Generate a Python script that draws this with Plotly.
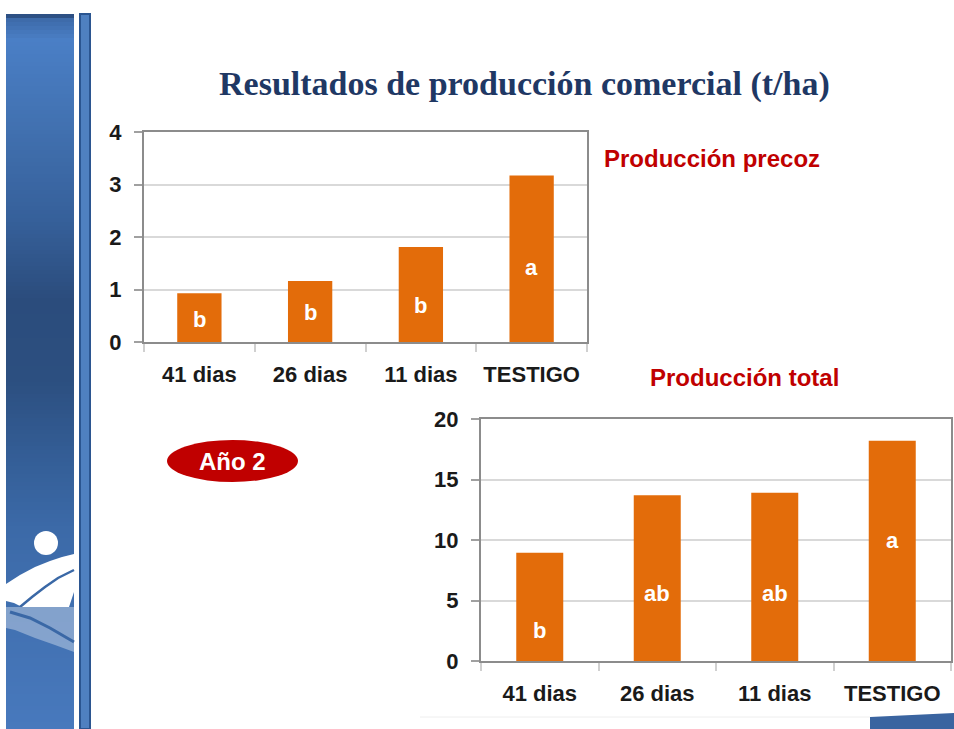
import plotly.graph_objects as go

categories = ["41 dias", "26 dias", "11 dias", "TESTIGO"]
precoz = [0.93, 1.16, 1.81, 3.17]
total = [8.95, 13.7, 13.9, 18.2]
precoz_letters = ["b", "b", "b", "a"]
total_letters = ["b", "ab", "ab", "a"]
precoz_letter_y = [0.42, 0.57, 0.70, 1.41]
total_letter_y = [2.5, 5.6, 5.6, 10.0]

W, H = 954, 729
ORANGE = "#E36C0A"
RED = "#C00000"
NAVY = "#1F3864"
SANS = "Liberation Sans, Arial, sans-serif"
SERIF = "Liberation Serif, Times New Roman, serif"


def px(x):
    return x / W


def py(y):
    return 1 - y / H


def path(points, close=True):
    d = "M " + " L ".join(f"{px(x):.5f},{py(y):.5f}" for x, y in points)
    return d + (" Z" if close else "")


def hex_mix(c1, c2, t):
    a = [int(c1[i:i + 2], 16) for i in (1, 3, 5)]
    b = [int(c2[i:i + 2], 16) for i in (1, 3, 5)]
    return "#" + "".join(f"{round(a[k] + (b[k] - a[k]) * t):02x}" for k in range(3))


def band_color(y, stops):
    for (y0, c0), (y1, c1) in zip(stops, stops[1:]):
        if y0 <= y <= y1:
            return hex_mix(c0, c1, (y - y0) / (y1 - y0))
    return stops[-1][1]


fig = go.Figure()

fig.add_trace(go.Bar(x=categories, y=precoz, xaxis="x", yaxis="y",
                     marker=dict(color=ORANGE, line=dict(width=0)),
                     width=0.4, hoverinfo="x+y"))
fig.add_trace(go.Bar(x=categories, y=total, xaxis="x2", yaxis="y2",
                     marker=dict(color=ORANGE, line=dict(width=0)),
                     width=0.4, hoverinfo="x+y"))

tick_font = dict(family=SANS, size=22, color="#1a1a1a", weight="bold")
x_common = dict(showline=True, mirror=True, linecolor="#8c8c8c", linewidth=2,
                ticks="outside", tickson="boundaries", tickcolor="#d0d0d0",
                ticklen=8, tickwidth=1.5, tickfont=tick_font,
                ticklabelstandoff=12, showgrid=False, fixedrange=True,
                automargin=False, range=[-0.5, 3.5])
y_common = dict(showline=True, mirror=True, linecolor="#8c8c8c", linewidth=2,
                ticks="outside", tickcolor="#a0a0a0", ticklen=8, tickwidth=1.5,
                tickfont=tick_font, ticklabelstandoff=8,
                showgrid=True, gridcolor="#d9d9d9", gridwidth=1.5,
                zeroline=False, fixedrange=True, automargin=False)

fig.update_layout(
    width=W, height=H, margin=dict(l=0, r=0, t=0, b=0, pad=0),
    paper_bgcolor="white", plot_bgcolor="white", showlegend=False,
    bargap=0.6,
    xaxis=dict(x_common, domain=[px(144), px(587)], anchor="y"),
    yaxis=dict(y_common, domain=[py(342), py(132)], anchor="x",
               range=[0, 4], dtick=1),
    xaxis2=dict(x_common, domain=[px(481), px(951)], anchor="y2"),
    yaxis2=dict(y_common, domain=[py(661), py(419)], anchor="x2",
                range=[0, 20], dtick=5),
)

# significance letters
for cat, letter, ly in zip(categories, precoz_letters, precoz_letter_y):
    fig.add_annotation(x=cat, y=ly, xref="x", yref="y", text=letter,
                       showarrow=False, xanchor="center",
                       font=dict(family=SANS, size=22, color="white",
                                 weight="bold"))
for cat, letter, ly in zip(categories, total_letters, total_letter_y):
    fig.add_annotation(x=cat, y=ly, xref="x2", yref="y2", text=letter,
                       showarrow=False, xanchor="center",
                       font=dict(family=SANS, size=22, color="white",
                                 weight="bold"))

# titles
fig.add_annotation(text="Resultados de producción comercial (t/ha)",
                   x=px(524), y=py(84), xref="paper", yref="paper",
                   showarrow=False, xanchor="center", yanchor="middle",
                   font=dict(family=SERIF, size=34, color=NAVY, weight="bold"))
fig.add_annotation(text="Producción precoz", x=px(602), y=py(158),
                   xref="paper", yref="paper", showarrow=False,
                   xanchor="left", yanchor="middle",
                   font=dict(family=SANS, size=24, color=RED, weight="bold"))
fig.add_annotation(text="Producción total", x=px(648), y=py(377),
                   xref="paper", yref="paper", showarrow=False,
                   xanchor="left", yanchor="middle",
                   font=dict(family=SANS, size=24, color=RED, weight="bold"))

# "Año 2" badge
fig.add_shape(type="circle", xref="paper", yref="paper",
              x0=px(167), x1=px(298), y0=py(482), y1=py(440),
              fillcolor=RED, line=dict(width=0), layer="above")
fig.add_annotation(text="Año 2", x=px(232), y=py(461), xref="paper",
                   yref="paper", showarrow=False, xanchor="center",
                   yanchor="middle",
                   font=dict(family=SANS, size=24, color="white",
                             weight="bold"))

# left decorative band
stops = [(14, "#0e1f40"), (17, "#3c68a6"), (40, "#4a7fc6"), (120, "#4272b2"),
         (220, "#36609a"), (300, "#2b4c7c"), (380, "#2c4f80"),
         (470, "#35609a"), (530, "#3c6aa8"), (729, "#4879bd")]
step = 4
for y0 in range(14, H, step):
    fig.add_shape(type="rect", xref="paper", yref="paper",
                  x0=px(6), x1=px(74), y0=py(min(y0 + step + 1, H)), y1=py(y0),
                  fillcolor=band_color(y0 + step / 2, stops),
                  line=dict(width=0), layer="below")
fig.add_shape(type="rect", xref="paper", yref="paper",
              x0=px(80), x1=px(90), y0=py(H), y1=py(14),
              fillcolor="#4f80c0", line=dict(color="#2b5590", width=2),
              layer="below")

# logo: head, swoosh and reflection
fig.add_shape(type="circle", xref="paper", yref="paper",
              x0=px(34), x1=px(58), y0=py(555), y1=py(531),
              fillcolor="white", line=dict(width=0), layer="below")
fig.add_shape(type="path", xref="paper", yref="paper",
              path=path([(6, 584), (20, 575), (35, 567), (50, 561), (62, 557),
                         (74, 554), (74, 592), (69, 607), (22, 607),
                         (14, 603), (6, 601)]),
              fillcolor="white", line=dict(width=0), layer="below")
fig.add_shape(type="path", xref="paper", yref="paper",
              path=path([(20, 607), (32, 597), (45, 587), (58, 578),
                         (74, 570)], close=False),
              line=dict(color="#3a68a6", width=2.5), layer="below")
fig.add_shape(type="path", xref="paper", yref="paper",
              path=path([(6, 607), (74, 607), (74, 652), (55, 645),
                         (35, 638), (15, 630), (6, 628)]),
              fillcolor="rgba(255,255,255,0.35)", line=dict(width=0),
              layer="below")
fig.add_shape(type="path", xref="paper", yref="paper",
              path=path([(10, 612), (30, 618), (50, 628), (74, 642)],
                        close=False),
              line=dict(color="#3a68a6", width=3), layer="below")

# bottom rule and corner piece
fig.add_shape(type="line", xref="paper", yref="paper",
              x0=px(420), x1=px(870), y0=py(717), y1=py(717),
              line=dict(color="#eeeeee", width=1), layer="below")
fig.add_shape(type="path", xref="paper", yref="paper",
              path=path([(870, 729), (870, 717), (954, 713), (954, 729)]),
              fillcolor="#3a64a0", line=dict(width=0), layer="below")

# pin the figure to the top-left corner of the window
pin = ("document.body.style.margin = '0';"
       "document.body.style.overflow = 'hidden';"
       "var d = document.getElementById('{plot_id}');"
       "d.style.position = 'fixed'; d.style.top = '0'; d.style.left = '0';")
fig.write_html("out.html", config={"displayModeBar": False}, post_script=pin)
